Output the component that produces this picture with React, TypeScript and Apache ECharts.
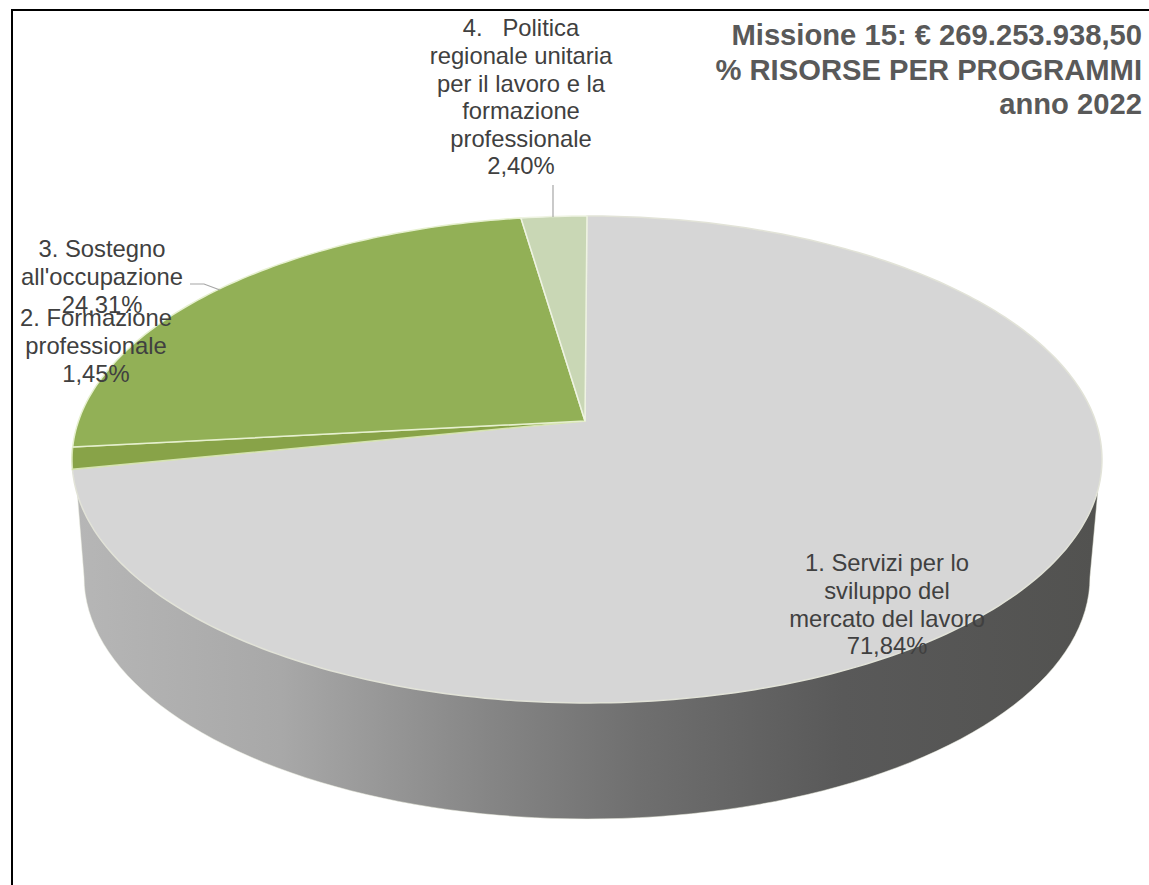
import React, { useEffect, useRef } from "react";
import * as echarts from "echarts";

// Data
const programmi = [
  "1. Servizi per lo\nsviluppo del\nmercato del lavoro",
  "2. Formazione\nprofessionale",
  "3. Sostegno\nall'occupazione",
  "4.   Politica\nregionale unitaria\nper il lavoro e la\nformazione\nprofessionale",
];
const percentuali = [71.84, 1.45, 24.31, 2.4];
const percentualiTesto = ["71,84%", "1,45%", "24,31%", "2,40%"];
const titolo = ["Missione 15: € 269.253.938,50", "% RISORSE PER PROGRAMMI", "anno 2022"];

// Styling and layout, kept apart from the data
const sliceColors = ["#d6d6d6", "#88a348", "#92b056", "#c9d7b5"];
const sliceStrokes = ["#e2e3d8", "#d5e3b0", "#e6f0cf", "#eef3e2"];
const labelCentres = [
  { x: 887, y: 549 },
  { x: 96, y: 304 },
  { x: 102, y: 235 },
  { x: 521, y: 14 },
];
const FONT = "'Liberation Sans', Arial, sans-serif";
const APEX = { x: 585, y: 421 };
const RIM_SHIFT = 2;
const A = 508.5;
const B = 237.4;
const K = 0.158;
const RIM = { cx: 587, cy: 577, a: 503, b: 242 };

const project = (deg: number) => {
  const t = (deg * Math.PI) / 180;
  const u = Math.sin(t);
  const v = -Math.cos(t);
  const w = 1 - K * v;
  return [APEX.x + RIM_SHIFT + (A * u) / w, APEX.y + (B * v) / w];
};

const wallPoints = () => {
  const pts: number[][] = [[77, 490]];
  for (let d = 180; d >= 0; d -= 2) {
    const t = (d * Math.PI) / 180;
    pts.push([RIM.cx + RIM.a * Math.cos(t), RIM.cy + RIM.b * Math.sin(t)]);
  }
  pts.push([1098, 490]);
  return pts;
};

export default function App() {
  const ref = useRef<HTMLDivElement>(null);
  useEffect(() => {
    const chart = echarts.init(ref.current!, undefined, { renderer: "svg" });
    const total = percentuali.reduce((s, v) => s + v, 0);
    chart.setOption({
      animation: false,
      backgroundColor: "#ffffff",
      title: {
        text: titolo.join("\n"),
        left: 1137,
        top: 13,
        textAlign: "right",
        padding: 5,
        textStyle: {
          fontFamily: FONT,
          fontSize: 29.2,
          fontWeight: "bold",
          color: "#595959",
          lineHeight: 34.5,
        },
      },
      graphic: [
        {
          type: "polyline",
          shape: { points: [[12, 885], [12, 10], [1149, 10]] },
          style: { stroke: "#000000", lineWidth: 2, fill: "none" },
          z: 0,
        },
      ],
      series: [
        {
          type: "custom",
          coordinateSystem: "none",
          silent: true,
          z: 1,
          data: [total],
          renderItem: () => ({
            type: "polygon",
            shape: { points: wallPoints() },
            style: {
              stroke: "#eef0e2",
              lineWidth: 0.5,
              fill: new echarts.graphic.LinearGradient(0, 0, 1, 0, [
                { offset: 0, color: "#b6b6b6" },
                { offset: 0.2, color: "#a8a8a8" },
                { offset: 0.4, color: "#868686" },
                { offset: 0.55, color: "#6f6f6f" },
                { offset: 0.75, color: "#595959" },
                { offset: 1, color: "#525250" },
              ]),
            },
          }),
        },
        {
          type: "custom",
          coordinateSystem: "none",
          silent: true,
          z: 2,
          data: percentuali.map((v) => [v]),
          renderItem: (params: any, api: any) => {
            const i = params.dataIndex;
            const start = percentuali.slice(0, i).reduce((s, v) => s + v, 0);
            const value = api.value(0);
            const a0 = (start / total) * 360;
            const a1 = ((start + value) / total) * 360;
            const pts: number[][] = [[APEX.x, APEX.y]];
            const steps = Math.max(2, Math.ceil(a1 - a0));
            for (let s = 0; s <= steps; s++) pts.push(project(a0 + ((a1 - a0) * s) / steps));
            return {
              type: "polygon",
              shape: { points: pts },
              style: { fill: sliceColors[i], stroke: sliceStrokes[i], lineWidth: 1.5 },
            };
          },
        },
        {
          type: "custom",
          coordinateSystem: "none",
          silent: true,
          z: 3,
          data: percentuali.map((v) => [v]),
          renderItem: (params: any) => {
            const i = params.dataIndex;
            const c = labelCentres[i];
            const children: any[] = [
              {
                type: "text",
                x: c.x,
                y: c.y,
                style: {
                  text: programmi[i] + "\n" + percentualiTesto[i],
                  fontFamily: FONT,
                  fontSize: 23.8,
                  lineHeight: 27.6,
                  fill: "#404040",
                  align: "center",
                  verticalAlign: "top",
                },
              },
            ];
            if (i === 2) {
              children.unshift({
                type: "polyline",
                shape: { points: [[190, 284], [204, 284], [220, 290]] },
                style: { stroke: "#a6a6a6", lineWidth: 1.2, fill: "none" },
              });
            }
            if (i === 3) {
              children.unshift({
                type: "line",
                shape: { x1: 553, y1: 185, x2: 553, y2: 217 },
                style: { stroke: "#a6a6a6", lineWidth: 1.2 },
              });
            }
            return { type: "group", children };
          },
        },
      ],
    });
    return () => chart.dispose();
  }, []);
  return <div ref={ref} style={{ position: "absolute", left: 0, top: 0, width: 1149, height: 885 }} />;
}
